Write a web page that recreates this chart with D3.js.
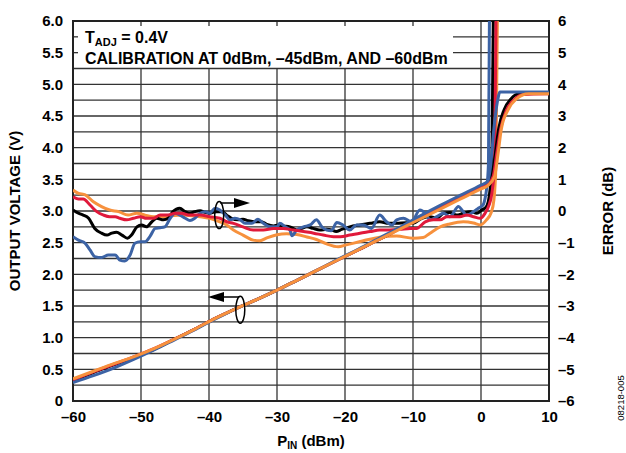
<!DOCTYPE html>
<html><head><meta charset="utf-8">
<script src="https://cdn.jsdelivr.net/npm/d3@7"></script>
<style>
html,body{margin:0;padding:0;background:#fff;}
svg text{font-family:"Liberation Sans",Arial,sans-serif;font-weight:bold;fill:#000;}
</style></head>
<body><svg id="c" width="626" height="453"></svg>
<script>
// ---- data ----
const xTicks = [-60,-50,-40,-30,-20,-10,0,10];
const xTickLabels = ["–60","–50","–40","–30","–20","–10","0","10"];
const yLeftTicks = [0,0.5,1,1.5,2,2.5,3,3.5,4,4.5,5,5.5,6];
const yLeftLabels = ["0","0.5","1.0","1.5","2.0","2.5","3.0","3.5","4.0","4.5","5.0","5.5","6.0"];
const yRightTicks = [-6,-5,-4,-3,-2,-1,0,1,2,3,4,5,6];
const yRightLabels = ["–6","–5","–4","–3","–2","–1","0","1","2","3","4","5","6"];

// output voltage (V) vs PIN (dBm)
const voltBlack = [[-60,0.32],[-57,0.45],[-54,0.57],[-51,0.69],[-48,0.82],[-45,0.98],[-42,1.14],[-39,1.31],[-36,1.46],[-33,1.60],[-30,1.75],[-27,1.91],[-24,2.07],[-21,2.23],[-18,2.39],[-15,2.55],[-12,2.72],[-9,2.89],[-6,3.06],[-3,3.22],[0,3.38],[1,3.43],[1.6,3.55],[2.1,3.9],[2.6,4.3],[3.4,4.6],[4.4,4.77],[5.6,4.85],[10,4.86]];
const voltBlue = [[-60,0.29],[-57,0.40],[-54,0.52],[-51,0.66],[-48,0.81],[-45,0.97],[-42,1.13],[-39,1.30],[-36,1.46],[-33,1.60],[-30,1.75],[-27,1.91],[-24,2.07],[-21,2.24],[-18,2.40],[-15,2.57],[-12,2.74],[-9,2.92],[-6,3.09],[-3,3.25],[0,3.41],[1,3.47],[1.4,3.7],[1.9,4.3],[2.4,4.72],[2.8,4.88],[10,4.88]];
const voltRed = [[-60,0.33],[-57,0.46],[-54,0.58],[-51,0.70],[-48,0.83],[-45,0.98],[-42,1.14],[-39,1.31],[-36,1.46],[-33,1.60],[-30,1.75],[-27,1.91],[-24,2.07],[-21,2.23],[-18,2.39],[-15,2.55],[-12,2.72],[-9,2.89],[-6,3.05],[-3,3.21],[0,3.37],[1,3.42],[1.8,3.55],[2.3,3.9],[2.9,4.3],[3.7,4.58],[4.8,4.75],[6.2,4.84],[10,4.85]];
const voltOrange = [[-60,0.35],[-57,0.47],[-54,0.59],[-51,0.70],[-48,0.83],[-45,0.98],[-42,1.14],[-39,1.31],[-36,1.46],[-33,1.60],[-30,1.75],[-27,1.91],[-24,2.07],[-21,2.23],[-18,2.39],[-15,2.55],[-12,2.71],[-9,2.87],[-6,3.03],[-3,3.19],[0,3.35],[1,3.40],[2,3.55],[2.5,3.9],[3.0,4.3],[4.0,4.6],[5.2,4.77],[7,4.85],[10,4.85]];

// error (dB) vs PIN (dBm)
const errBlack = [[-60,0.03],[-59.2,-0.07],[-58.5,-0.13],[-57.7,-0.23],[-56.8,-0.55],[-55.8,-0.70],[-55.0,-0.76],[-54.3,-0.70],[-53.6,-0.67],[-52.8,-0.76],[-52.0,-0.86],[-51.4,-0.76],[-50.6,-0.50],[-49.9,-0.44],[-49.2,-0.50],[-48.4,-0.34],[-47.7,-0.23],[-46.7,-0.28],[-46.0,-0.23],[-45.3,-0.02],[-44.3,0.09],[-43.5,-0.02],[-42.8,-0.07],[-42.1,-0.02],[-41.3,0.01],[-40.6,-0.04],[-39.9,-0.07],[-38.9,-0.02],[-38.1,-0.02],[-37.4,-0.13],[-36.7,-0.23],[-35.7,-0.28],[-35.0,-0.26],[-34.2,-0.31],[-33.2,-0.34],[-32.3,-0.34],[-31.5,-0.42],[-30.5,-0.47],[-29.8,-0.44],[-29.1,-0.47],[-28.1,-0.50],[-27.1,-0.60],[-26.4,-0.55],[-25.6,-0.50],[-24.7,-0.55],[-23.7,-0.60],[-22.7,-0.58],[-22.0,-0.60],[-21.3,-0.65],[-20.5,-0.58],[-19.3,-0.50],[-17.8,-0.44],[-16.3,-0.39],[-14.9,-0.34],[-13.6,-0.39],[-12.4,-0.39],[-11.0,-0.37],[-10.0,-0.39],[-8.7,-0.23],[-7.5,-0.18],[-6.5,-0.23],[-5.5,-0.07],[-4.6,-0.05],[-3.6,-0.13],[-2.6,-0.07],[-1.6,-0.02],[-0.6,-0.07],[0.1,0.03],[0.8,0.14],[1.2,0.45],[1.6,1.5],[1.9,8]];
const errBlue = [[-60,-0.81],[-59.2,-0.92],[-58.2,-1.02],[-57.5,-1.23],[-56.8,-1.44],[-55.8,-1.47],[-54.8,-1.39],[-53.8,-1.39],[-53.1,-1.55],[-52.4,-1.58],[-51.6,-1.39],[-50.9,-1.02],[-50.1,-0.97],[-49.4,-0.97],[-48.7,-0.81],[-47.9,-0.55],[-47.2,-0.53],[-46.5,-0.50],[-45.7,-0.23],[-45.0,-0.07],[-44.3,-0.13],[-43.5,-0.23],[-42.8,-0.30],[-42.1,-0.23],[-41.3,-0.07],[-40.6,-0.02],[-39.9,-0.07],[-39.1,0.09],[-38.4,0.03],[-37.6,-0.13],[-36.9,-0.28],[-36.2,-0.23],[-35.4,-0.28],[-34.7,-0.39],[-33.7,-0.39],[-32.8,-0.26],[-32.0,-0.39],[-31.0,-0.50],[-30.0,-0.50],[-29.6,-0.39],[-28.8,-0.50],[-28.1,-0.60],[-27.8,-0.78],[-27.1,-0.60],[-26.1,-0.50],[-25.1,-0.44],[-24.2,-0.28],[-23.4,-0.50],[-22.7,-0.60],[-22.0,-0.62],[-21.2,-0.36],[-20.3,-0.44],[-19.3,-0.60],[-18.3,-0.44],[-17.3,-0.44],[-16.1,-0.55],[-14.9,-0.13],[-13.9,-0.34],[-13.1,-0.44],[-12.4,-0.28],[-11.4,-0.23],[-10.2,-0.34],[-9.0,0.03],[-8.2,-0.07],[-7.5,-0.28],[-6.5,-0.18],[-5.5,-0.07],[-4.6,-0.18],[-3.3,0.14],[-2.8,0.03],[-2.1,-0.13],[-1.1,-0.02],[-0.4,0.09],[0.3,0.19],[0.6,0.40],[0.8,0.66],[1.1,1.5],[1.3,8]];
const errRed = [[-60,0.45],[-59.2,0.38],[-58.5,0.38],[-57.5,0.19],[-56.5,-0.02],[-55.5,-0.13],[-54.6,-0.18],[-53.8,-0.18],[-53.1,-0.23],[-52.1,-0.28],[-51.1,-0.23],[-50.1,-0.18],[-49.2,-0.23],[-48.2,-0.23],[-47.2,-0.13],[-46.0,-0.13],[-45.0,-0.07],[-44.0,-0.07],[-43.0,-0.13],[-41.3,-0.13],[-39.9,-0.18],[-38.4,-0.23],[-37.4,-0.34],[-36.4,-0.39],[-35.0,-0.50],[-33.5,-0.60],[-32.0,-0.60],[-30.5,-0.55],[-29.1,-0.55],[-27.6,-0.60],[-26.1,-0.65],[-24.6,-0.70],[-23.2,-0.76],[-21.7,-0.81],[-20.7,-0.81],[-19.3,-0.76],[-17.8,-0.70],[-16.3,-0.65],[-14.9,-0.60],[-13.4,-0.60],[-11.9,-0.58],[-10.4,-0.55],[-9.5,-0.55],[-8.2,-0.34],[-7.0,-0.28],[-6.0,-0.28],[-5.0,-0.18],[-4.1,-0.18],[-3.1,-0.18],[-2.1,-0.13],[-1.1,-0.18],[-0.1,-0.23],[0.6,-0.07],[1.1,0.14],[1.6,0.56],[2.0,1.5],[2.3,8]];
const errOrange = [[-60,0.66],[-59.2,0.56],[-58.2,0.51],[-57.0,0.29],[-55.8,0.14],[-54.6,0.03],[-53.3,-0.02],[-51.9,-0.13],[-50.6,-0.07],[-49.4,-0.13],[-48.2,-0.18],[-47.0,-0.18],[-45.5,-0.15],[-44.0,-0.13],[-42.5,-0.15],[-41.3,-0.18],[-39.9,-0.23],[-38.4,-0.34],[-37.4,-0.44],[-36.4,-0.60],[-35.0,-0.76],[-33.5,-0.92],[-32.5,-0.94],[-31.5,-0.85],[-30.0,-0.75],[-28.6,-0.72],[-27.1,-0.74],[-25.6,-0.82],[-24.2,-0.90],[-22.7,-1.04],[-21.0,-1.13],[-19.8,-1.07],[-17.3,-0.94],[-14.9,-0.83],[-12.4,-0.79],[-10.0,-0.86],[-8.5,-0.84],[-7.5,-0.70],[-6.0,-0.50],[-4.6,-0.41],[-2.6,-0.34],[-1.1,-0.38],[-0.1,-0.44],[0.8,-0.28],[1.5,-0.05],[1.9,0.35],[2.2,1.5],[2.5,8]];

const colors = {black:"#000000", blue:"#3c63a5", red:"#e0193b", orange:"#f7913d"};

// ---- drawing ----
const svg = d3.select("#c");
const L=73, R=549, T=21, B=401;
const x = d3.scaleLinear().domain([-60,10]).range([L,R]);
const yL = d3.scaleLinear().domain([0,6]).range([B,T]);
const yR = d3.scaleLinear().domain([-6,6]).range([B,T]);
const boxRight = 453, boxV = 5.25;

const grid = svg.append("g").attr("stroke","#333").attr("stroke-width",1.3);
// horizontal gridlines every 0.25 V
d3.range(1,24).forEach(i=>{
  const v = i*0.25;
  const y = yL(v);
  if (v > boxV) {
    grid.append("line").attr("x1",boxRight).attr("x2",R).attr("y1",y).attr("y2",y);
    grid.append("line").attr("x1",L).attr("x2",L+5).attr("y1",y).attr("y2",y);
  } else {
    grid.append("line").attr("x1",L).attr("x2",R).attr("y1",y).attr("y2",y);
  }
});
// vertical gridlines
[-50,-40,-30,-20,-10,0].forEach(d=>{
  const xx = x(d);
  if (xx > boxRight) {
    grid.append("line").attr("x1",xx).attr("x2",xx).attr("y1",T).attr("y2",B);
  } else {
    grid.append("line").attr("x1",xx).attr("x2",xx).attr("y1",yL(boxV)).attr("y2",B);
    grid.append("line").attr("x1",xx).attr("x2",xx).attr("y1",T).attr("y2",T+5);
  }
});

// frame
svg.append("rect").attr("x",L).attr("y",T).attr("width",R-L).attr("height",B-T)
  .attr("fill","none").attr("stroke","#222").attr("stroke-width",2);

// clip
svg.append("clipPath").attr("id","plotclip").append("rect")
  .attr("x",L).attr("y",T).attr("width",R-L).attr("height",B-T);
const plot = svg.append("g").attr("clip-path","url(#plotclip)");

const lineL = d3.line().x(d=>x(d[0])).y(d=>yL(d[1])).curve(d3.curveMonotoneX);
const lineR = d3.line().x(d=>x(d[0])).y(d=>yR(d[1])).curve(d3.curveMonotoneX);

[[errOrange,"orange"],[errBlack,"black"],[errBlue,"blue"],[errRed,"red"]].forEach(([d,c])=>{
  plot.append("path").datum(d).attr("d",lineR).attr("fill","none")
    .attr("stroke",colors[c]).attr("stroke-width",3).attr("stroke-linejoin","round");
});
[[voltBlack,"black"],[voltRed,"red"],[voltBlue,"blue"],[voltOrange,"orange"]].forEach(([d,c])=>{
  plot.append("path").datum(d).attr("d",lineL).attr("fill","none")
    .attr("stroke",colors[c]).attr("stroke-width",3).attr("stroke-linejoin","round");
});

// axes (labels)
const axB = svg.append("g").attr("transform",`translate(0,${B})`)
  .call(d3.axisBottom(x).tickValues(xTicks).tickFormat((d,i)=>xTickLabels[i]).tickSize(0).tickPadding(10));
const axLg = svg.append("g").attr("transform",`translate(${L},0)`)
  .call(d3.axisLeft(yL).tickValues(yLeftTicks).tickFormat((d,i)=>yLeftLabels[i]).tickSize(0).tickPadding(10));
const axRg = svg.append("g").attr("transform",`translate(${R},0)`)
  .call(d3.axisRight(yR).tickValues(yRightTicks).tickFormat((d,i)=>yRightLabels[i]).tickSize(0).tickPadding(9));
[axB,axLg,axRg].forEach(g=>{
  g.select(".domain").remove();
  g.selectAll("text").attr("font-size",15).attr("font-family","Liberation Sans, Arial, sans-serif").attr("font-weight","bold").attr("fill","#000");
});

// annotation text
const t1 = svg.append("text").attr("x",85).attr("y",43).attr("font-size",16);
t1.append("tspan").text("T");
t1.append("tspan").attr("font-size",11).attr("dy",3).text("ADJ");
t1.append("tspan").attr("dy",-3).text(" = 0.4V");
svg.append("text").attr("x",85).attr("y",63.5).attr("font-size",16)
  .text("CALIBRATION AT 0dBm, –45dBm, AND –60dBm");

// axis titles
svg.append("text").attr("transform",`translate(20,${(T+B)/2}) rotate(-90)`)
  .attr("text-anchor","middle").attr("font-size",15).text("OUTPUT VOLTAGE (V)");
svg.append("text").attr("transform",`translate(613,${(T+B)/2}) rotate(-90)`)
  .attr("text-anchor","middle").attr("font-size",15).text("ERROR (dB)");
const xt = svg.append("text").attr("x",(L+R)/2).attr("y",446).attr("text-anchor","middle").attr("font-size",15);
xt.append("tspan").text("P");
xt.append("tspan").attr("font-size",10).attr("dy",3).text("IN");
xt.append("tspan").attr("dy",-3).text(" (dBm)");
svg.append("text").attr("transform","translate(624,398) rotate(-90)")
  .attr("text-anchor","middle").attr("font-size",9.5).attr("font-weight","normal")
  .style("font-weight","normal").text("08218-005");

// ellipse + arrow annotations
const ann = svg.append("g").attr("stroke","#000").attr("stroke-width",1.5).attr("fill","none");
function arrowAnno(cx, cy, yArrowV, toX, dir){
  ann.append("ellipse").attr("cx",cx).attr("cy",cy).attr("rx",4.5).attr("ry",13.5);
  const yA = yArrowV;
  const headLen = 16, headHalf = 5;
  const baseX = toX - dir*headLen;
  ann.append("line").attr("x1",cx+dir*1).attr("x2",baseX).attr("y1",yA).attr("y2",yA);
  svg.append("path").attr("d",`M${toX},${yA} L${baseX},${yA-headHalf} L${baseX},${yA+headHalf} Z`).attr("fill","#000");
}
arrowAnno(x(-38.5), yR(-0.13), 203, 250, 1);
arrowAnno(x(-35.4), yL(1.44), 297, 208, -1);
</script></body></html>
